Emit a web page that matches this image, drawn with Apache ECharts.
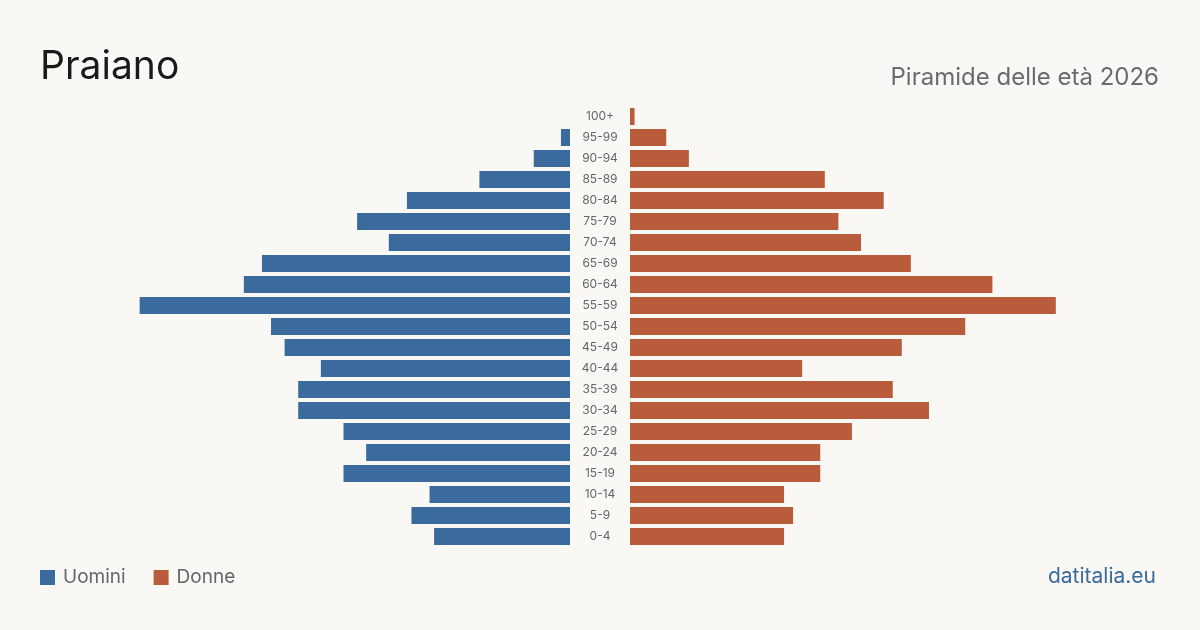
<!DOCTYPE html>
<html><head><meta charset="utf-8">
<script src="https://cdn.jsdelivr.net/npm/echarts@6/dist/echarts.min.js"></script>
<style>html,body{margin:0;padding:0;background:#f9f8f4;}#c{width:1200px;height:630px;}</style>
</head><body><div id="c"></div>
<script>
const ageGroups = ['0-4','5-9','10-14','15-19','20-24','25-29','30-34','35-39','40-44','45-49','50-54','55-59','60-64','65-69','70-74','75-79','80-84','85-89','90-94','95-99','100+'];
const men   = [30,35,31,50,45,50,60,60,55,63,66,95,72,68,40,47,36,20,8,2,0];
const women = [34,36,34,42,42,49,66,58,38,60,74,94,80,62,51,46,56,43,13,8,1];
const axisMax = 100;
const FONT = 'Inter, "Noto Sans", sans-serif';
const chart = echarts.init(document.getElementById('c'), null, {renderer:'canvas'});
const catAxis = (gi, show) => ({
  type:'category', gridIndex:gi, data:ageGroups, position: show ? 'left':'right',
  axisLine:{show:false}, axisTick:{show:false},
  axisLabel:{show:show, align:'center', margin:30, color:'#666', fontSize:12, fontFamily:FONT, lineHeight:14, padding:[3,0,0,0]},
  splitLine:{show:false}
});
chart.setOption({
  backgroundColor:'#f9f8f4',
  animation:false,
  title:[
    {text:'Praiano', left:35, top:43, textStyle:{fontFamily:FONT, fontSize:39, fontWeight:'normal', color:'#1a1a1a'}},
    {text:'Piramide delle età 2026', right:36, top:61, textStyle:{fontFamily:FONT, fontSize:24, fontWeight:'normal', color:'#6b6b6b'}},
    {text:'datitalia.eu', right:39, top:561, textStyle:{fontFamily:FONT, fontSize:21, fontWeight:'normal', color:'#3a6b9c'}}
  ],
  legend:{left:35, top:563, itemWidth:15, itemHeight:15, itemGap:28, icon:'rect',
    textStyle:{fontFamily:FONT, fontSize:19, color:'#666', padding:[0,0,0,3]}, data:['Uomini','Donne']},
  grid:[
    {left:570-4.53*axisMax, width:4.53*axisMax, top:106, height:441},
    {left:630, width:4.53*axisMax, top:106, height:441}
  ],
  xAxis:[
    {type:'value', gridIndex:0, min:0, max:axisMax, inverse:true, show:false},
    {type:'value', gridIndex:1, min:0, max:axisMax, show:false}
  ],
  yAxis:[catAxis(0,false), catAxis(1,true)],
  series:[
    {name:'Uomini', type:'bar', xAxisIndex:0, yAxisIndex:0, data:men, barWidth:17, itemStyle:{color:'#3a6b9c'}},
    {name:'Donne', type:'bar', xAxisIndex:1, yAxisIndex:1, data:women, barWidth:17, itemStyle:{color:'#b95c3c'}}
  ]
});
</script></body></html>
